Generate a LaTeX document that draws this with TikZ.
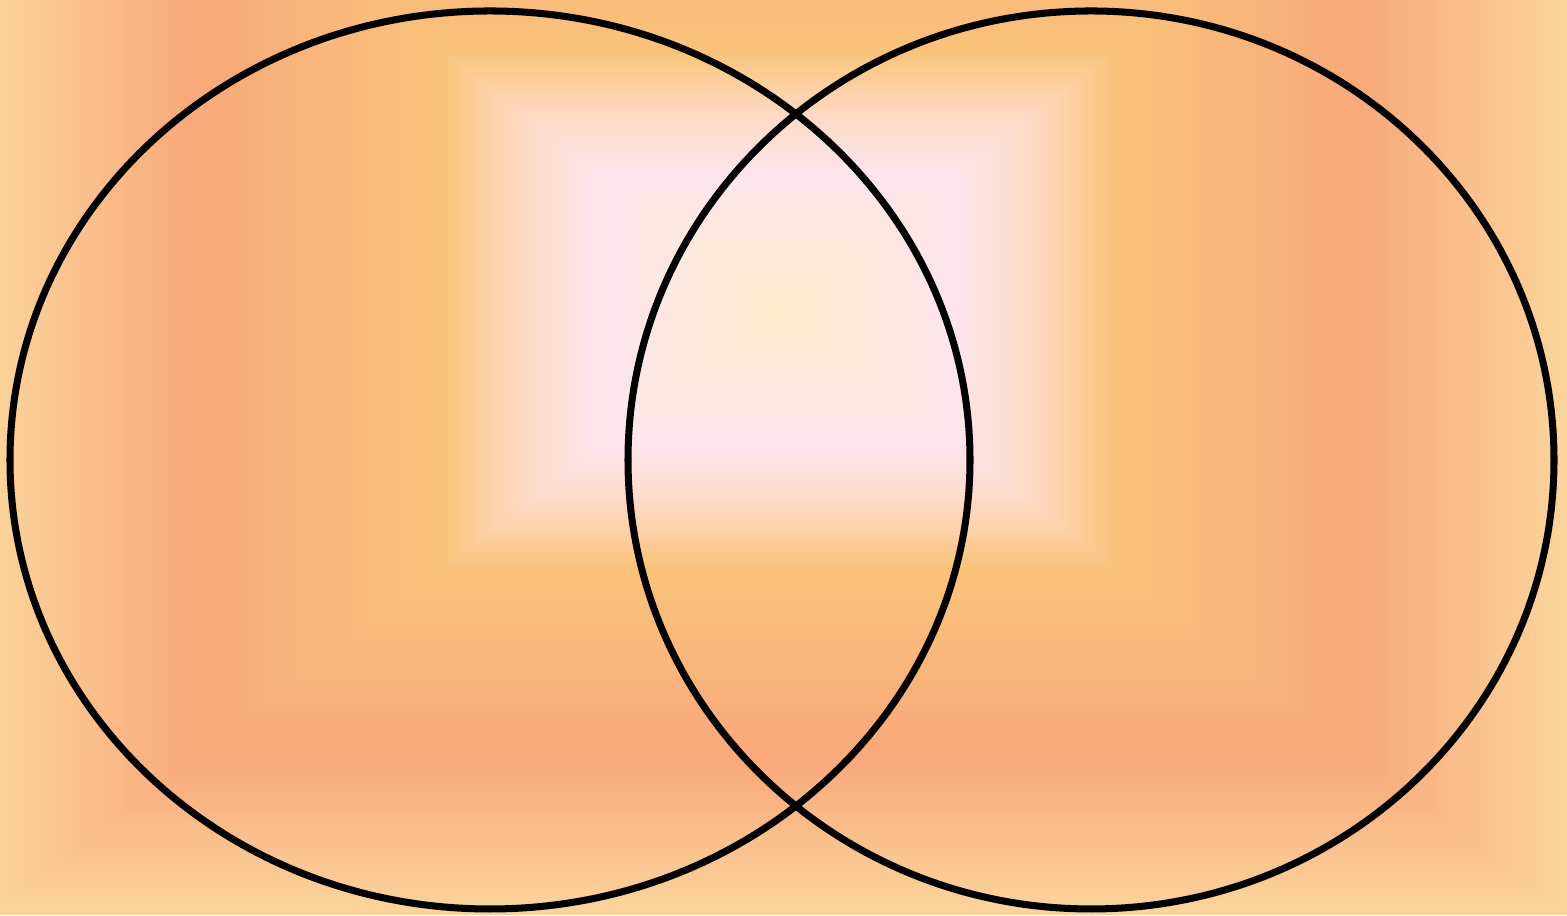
\documentclass[tikz,border=0pt]{standalone}
\usepackage{tikz}
\usepackage{xcolor}
\definecolor{glowCenter}{HTML}{FCEBCB}
\definecolor{glowLight}{HTML}{FCE8DC}
\definecolor{glowPink}{HTML}{FDE5EE}
\definecolor{glowRose}{HTML}{FCDDD0}
\definecolor{glowPeach}{HTML}{FCD3AC}
\definecolor{glowGold}{HTML}{FAC37B}
\definecolor{glowSalmon}{HTML}{F9A87A}
\definecolor{glowEdge}{HTML}{FBD49C}

% one band of the rectangular glow: from ring #1 (colour #3) in to ring #2 (colour #4)
\newcommand{\bandfill}[5]{%
  \foreach \k in {0,...,#5}{
    \pgfmathsetmacro{\bt}{#1-(#1-#2)*\k/#5}
    \pgfmathsetmacro{\pc}{100*\k/#5}
    \fill[#4!\pc!#3] (7.78-\bt*7.9, 6.06-\bt*6.05) rectangle (7.78+\bt*7.9, 6.06+\bt*6.05);
  }}

\begin{document}
\begin{tikzpicture}[
    venn/.style={draw=black, line width=2pt}
  ]
    \useasboundingbox (0,0) rectangle (15.67,9.16);
    \begin{scope}
      \clip (0,0) rectangle (15.67,9.16);
      \bandfill{1.00}{0.74}{glowEdge}{glowSalmon}{40}
      \bandfill{0.74}{0.43}{glowSalmon}{glowGold}{45}
      \bandfill{0.43}{0.36}{glowGold}{glowPeach}{12}
      \bandfill{0.36}{0.30}{glowPeach}{glowRose}{10}
      \bandfill{0.30}{0.22}{glowRose}{glowPink}{12}
      \bandfill{0.22}{0.12}{glowPink}{glowLight}{16}
      \bandfill{0.12}{0.01}{glowLight}{glowCenter}{14}
    \end{scope}
    % the two sets
    \draw[venn] (4.90,4.56) ellipse [x radius=4.80, y radius=4.49];
    \draw[venn] (10.91,4.56) ellipse [x radius=4.63, y radius=4.49];
  \end{tikzpicture}
\end{document}
